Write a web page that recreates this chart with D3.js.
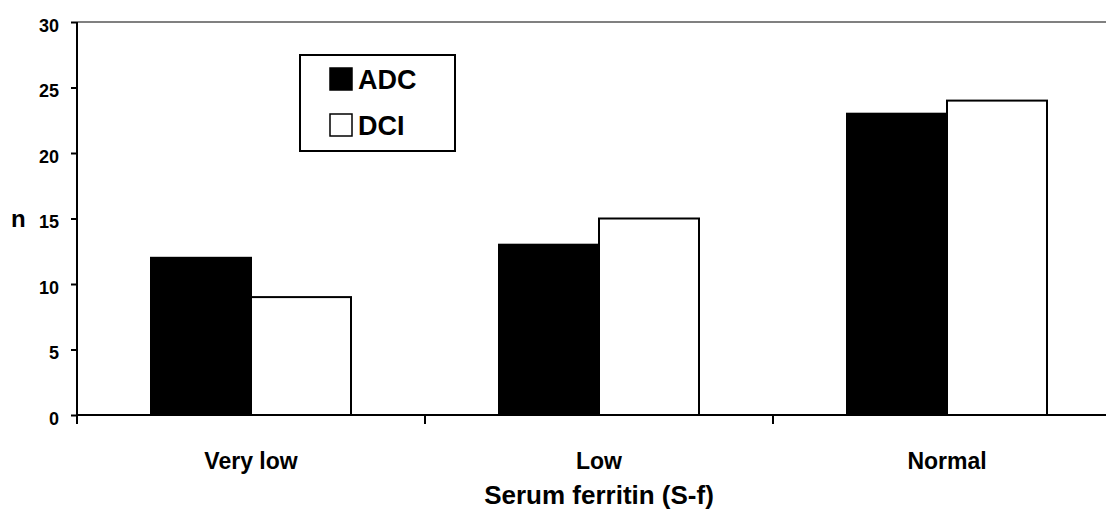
<!DOCTYPE html>
<html>
<head>
    <meta charset="UTF-8">
    <style>
        body { margin: 0; background-color: #ffffff; }
        svg { display: block; }
        text { font-family: "Liberation Sans", Arial, sans-serif; font-weight: bold; fill: #000; }
    </style>
    <script src="https://cdnjs.cloudflare.com/ajax/libs/d3/7.8.5/d3.min.js"></script>
</head>
<body>
    <svg id="svg" width="1106" height="512"></svg>
    <script>
        // chart data
        var categories = ["Very low", "Low", "Normal"];
        var series = ["ADC", "DCI"];
        var adcValues = [12, 13, 23];
        var dciValues = [9, 15, 24];
        var yTicks = [0, 5, 10, 15, 20, 25, 30];

        var svg = d3.select("#svg");

        // plot area (runs a bit past the right edge like the original picture)
        var plotLeft = 77, plotTop = 22, plotBottom = 415, step = 348;
        var plotRight = plotLeft + step * categories.length;

        var xScale = d3.scaleBand().domain(categories).range([plotLeft, plotRight]).padding(0);
        var xSub = d3.scaleBand().domain(series).range([0, xScale.bandwidth()])
            .paddingInner(0).paddingOuter(0.74);
        var yScale = d3.scaleLinear().domain([0, 30]).range([plotBottom, plotTop]);

        var rows = categories.map(function(c, i) {
            return {cat: c, ADC: adcValues[i], DCI: dciValues[i]};
        });

        // gray top border of plot area
        svg.append("line")
            .attr("x1", plotLeft).attr("x2", plotRight)
            .attr("y1", plotTop).attr("y2", plotTop)
            .attr("stroke", "#808080").attr("stroke-width", 2);

        // bars
        var groups = svg.append("g").selectAll("g").data(rows).enter()
            .append("g")
            .attr("transform", function(d) { return "translate(" + xScale(d.cat) + ",0)"; });

        groups.selectAll("rect").data(function(d) {
            return series.map(function(s) { return {key: s, value: d[s]}; });
        }).enter().append("rect")
            .attr("x", function(d) { return xSub(d.key); })
            .attr("y", function(d) { return yScale(d.value); })
            .attr("width", xSub.bandwidth())
            .attr("height", function(d) { return plotBottom - yScale(d.value); })
            .attr("fill", function(d) { return d.key == "ADC" ? "#000" : "#fff"; })
            .attr("stroke", "#000")
            .attr("stroke-width", 2);

        // y axis
        var yAxis = svg.append("g")
            .attr("transform", "translate(" + plotLeft + ",0)")
            .call(d3.axisLeft(yScale).tickValues(yTicks).tickSize(6).tickPadding(12));
        yAxis.select(".domain").attr("stroke", "#000").attr("stroke-width", 2)
            .attr("d", "M0," + plotTop + "V" + (plotBottom + 9));
        yAxis.selectAll(".tick line").attr("stroke", "#000").attr("stroke-width", 2);
        yAxis.selectAll(".tick text")
            .attr("font-size", 18).attr("font-family", "Liberation Sans, Arial, sans-serif")
            .attr("font-weight", "bold").attr("dy", "0.5em");

        // x axis line + category boundary ticks
        svg.append("line")
            .attr("x1", plotLeft).attr("x2", plotRight)
            .attr("y1", plotBottom).attr("y2", plotBottom)
            .attr("stroke", "#000").attr("stroke-width", 2);
        svg.append("g").selectAll("line").data(categories.slice(1).concat(["__end"])).enter()
            .append("line")
            .attr("x1", function(d) { return d == "__end" ? plotRight : xScale(d); })
            .attr("x2", function(d) { return d == "__end" ? plotRight : xScale(d); })
            .attr("y1", plotBottom).attr("y2", plotBottom + 9)
            .attr("stroke", "#000").attr("stroke-width", 2);

        var xAxis = svg.append("g")
            .attr("transform", "translate(0," + plotBottom + ")")
            .call(d3.axisBottom(xScale).tickSize(0).tickPadding(0));
        xAxis.select(".domain").remove();
        xAxis.selectAll(".tick text")
            .attr("font-size", 23).attr("font-family", "Liberation Sans, Arial, sans-serif")
            .attr("font-weight", "bold").attr("y", 54).attr("dy", 0);

        // axis titles
        svg.append("text")
            .attr("x", plotLeft + step * 1.5).attr("y", 504)
            .attr("text-anchor", "middle").attr("font-size", 26)
            .text("Serum ferritin (S-f)");
        svg.append("text")
            .attr("x", 11).attr("y", 227)
            .attr("font-size", 24)
            .text("n");

        // legend
        var legend = svg.append("g");
        legend.append("rect")
            .attr("x", 300).attr("y", 55).attr("width", 155).attr("height", 96)
            .attr("fill", "#fff").attr("stroke", "#000").attr("stroke-width", 2);
        var items = legend.selectAll("g.item").data(series).enter()
            .append("g").attr("class", "item")
            .attr("transform", function(d, i) { return "translate(330," + (68 + i * 46) + ")"; });
        items.append("rect")
            .attr("width", 22).attr("height", 22)
            .attr("fill", function(d) { return d == "ADC" ? "#000" : "#fff"; })
            .attr("stroke", "#000").attr("stroke-width", 1.5);
        items.append("text")
            .attr("x", 28).attr("y", 21)
            .attr("font-size", 27)
            .text(function(d) { return d; });
    </script>
</body>
</html>
